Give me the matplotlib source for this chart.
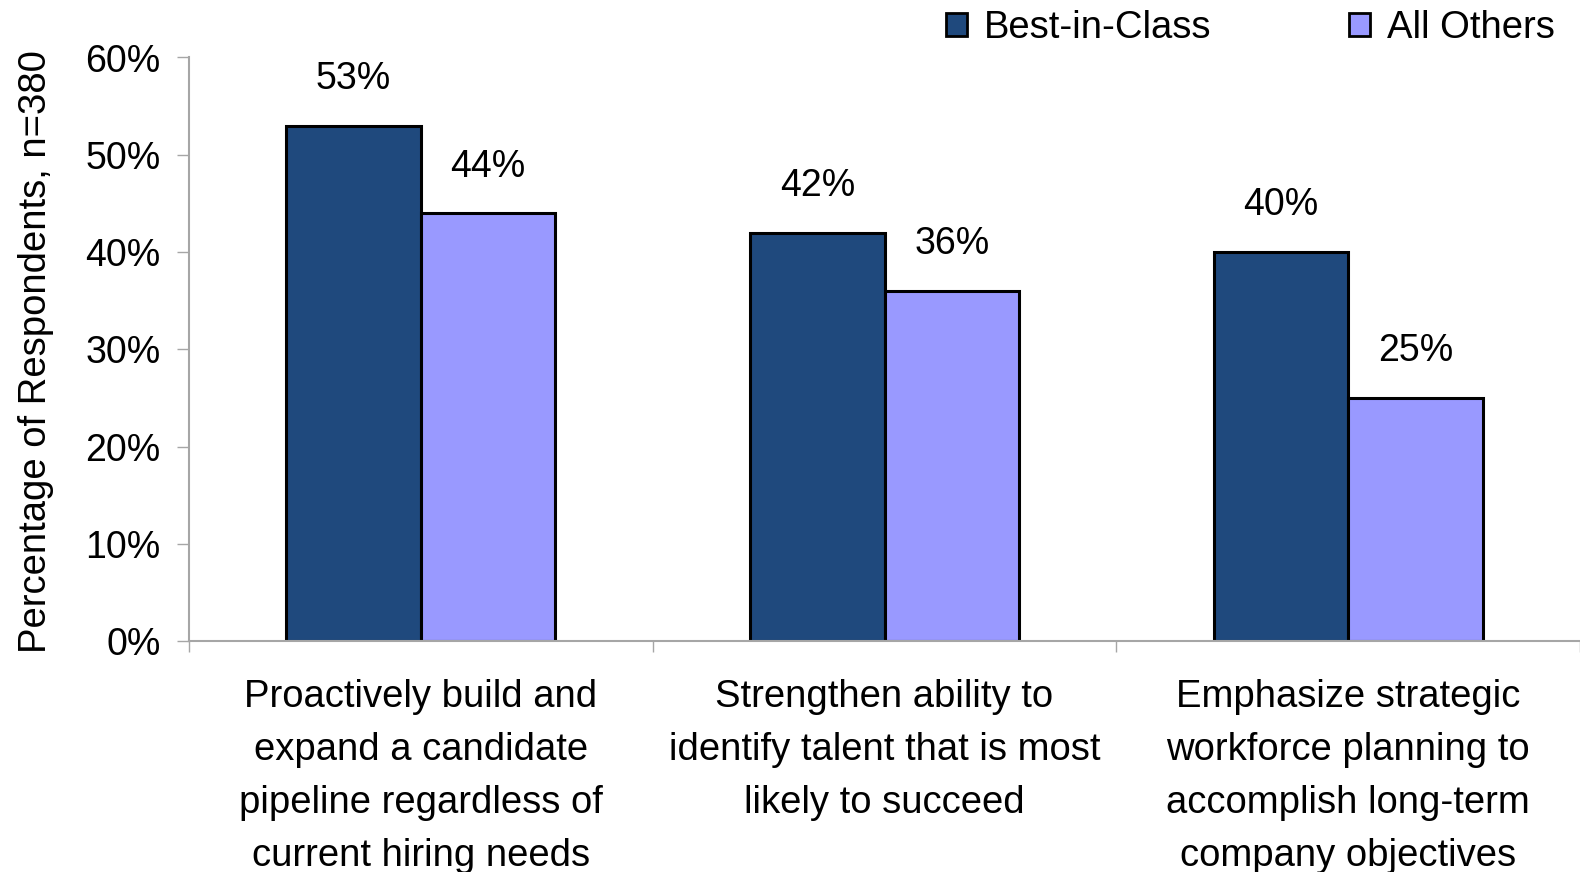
import matplotlib
matplotlib.use("Agg")
import matplotlib.pyplot as plt
from matplotlib.patches import Patch
import numpy as np

categories = [
    "Proactively build and\nexpand a candidate\npipeline regardless of\ncurrent hiring needs",
    "Strengthen ability to\nidentify talent that is most\nlikely to succeed",
    "Emphasize strategic\nworkforce planning to\naccomplish long-term\ncompany objectives",
]
best_in_class = [53, 42, 40]
all_others = [44, 36, 25]
series_names = ["Best-in-Class", "All Others"]
y_ticks = [0, 10, 20, 30, 40, 50, 60]

dark = "#1f497d"
light = "#9999ff"
axis_gray = "#a6a6a6"
fs = 27
fs_text = 27.5

plt.rcParams["font.family"] = ["Liberation Sans", "DejaVu Sans"]

fig = plt.figure(figsize=(15.8, 8.72), dpi=100)
ax = fig.add_axes([189 / 1580, 1 - 641 / 872, 1 - 189 / 1580, (641 - 57.5) / 872])

x = np.arange(len(categories))
w = 0.29
b1 = ax.bar(x - w / 2, best_in_class, w, color=dark, edgecolor="black", linewidth=2.2)
b2 = ax.bar(x + w / 2, all_others, w, color=light, edgecolor="black", linewidth=2.2)

for bars, vals in ((b1, best_in_class), (b2, all_others)):
    for rect, v in zip(bars, vals):
        ax.annotate(f"{v}%", (rect.get_x() + rect.get_width() / 2, v),
                    xytext=(0, 33.5), textcoords="offset points",
                    ha="center", va="center", fontsize=fs)

ax.set_xlim(-0.5, len(categories) - 0.5)
ax.set_ylim(0, 60)
ax.set_yticks(y_ticks)
ax.set_yticklabels([f"{t}%" for t in y_ticks], fontsize=fs)
ax.set_ylabel("Percentage of Respondents, n=380", fontsize=fs_text)
ax.yaxis.label.set_va("center")
ax.yaxis.set_label_coords((36 - 189) / 1391, 0.496)

# category boundaries carry the tick marks; labels sit at the centres
ax.set_xticks(np.arange(len(categories) + 1) - 0.5)
ax.set_xticklabels([])
ax.tick_params(axis="x", direction="out", length=8, width=1, color=axis_gray)
ax.tick_params(axis="y", direction="out", length=8.5, width=1, color=axis_gray, pad=12)
for i, lab in enumerate(categories):
    ax.text(i, -3.9, lab, ha="center", va="top", fontsize=fs_text,
            linespacing=1.61, transform=ax.transData)

for side in ("top", "right"):
    ax.spines[side].set_visible(False)
for side in ("left", "bottom"):
    ax.spines[side].set_color(axis_gray)
    ax.spines[side].set_linewidth(1.5)

handles = [Patch(facecolor=dark, edgecolor="black", linewidth=2),
           Patch(facecolor=light, edgecolor="black", linewidth=2)]
fig.legend(handles, series_names, loc="center right", bbox_to_anchor=(1.006, 1 - 28 / 872),
           ncol=2, frameon=False, fontsize=fs_text, handlelength=0.55, handleheight=0.55,
           handletextpad=0.45, columnspacing=3.6)

fig.savefig("out.png", dpi=100, facecolor="white")
